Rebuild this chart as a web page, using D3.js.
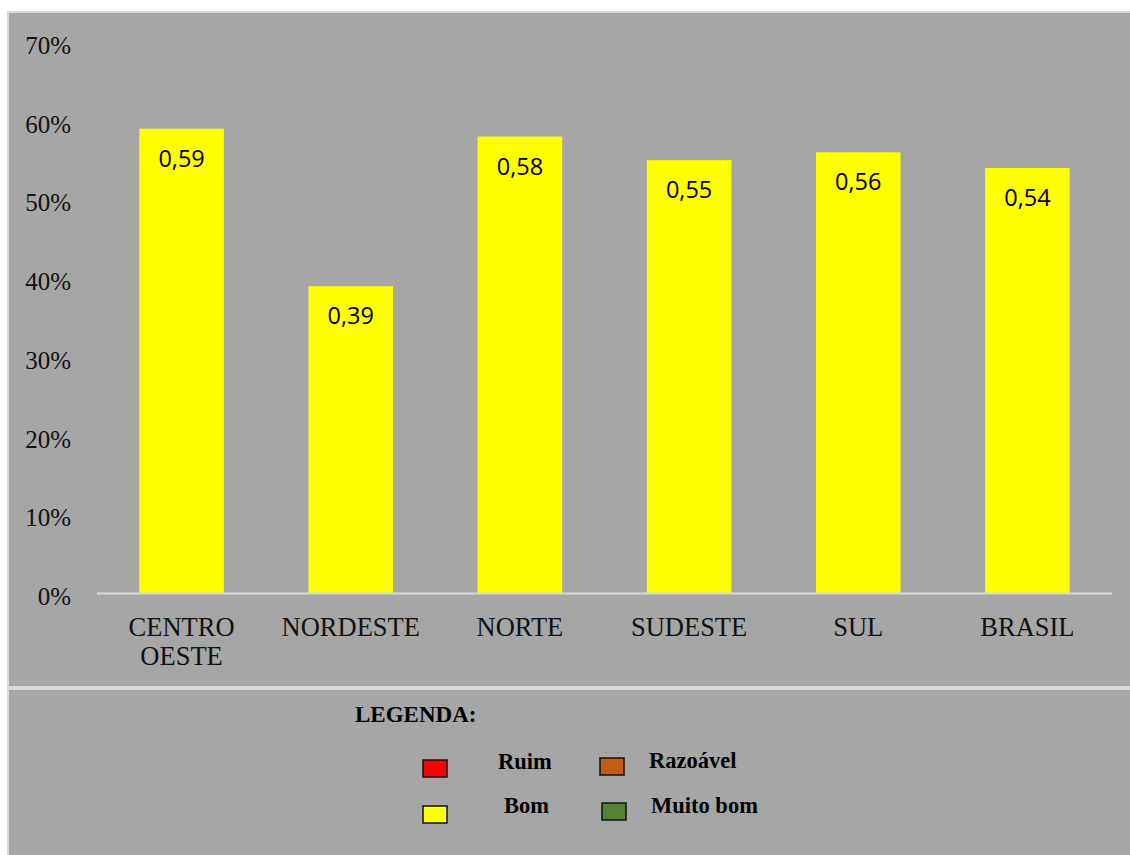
<!DOCTYPE html>
<html>
<head>
<meta charset="utf-8">
<script src="https://cdn.jsdelivr.net/npm/d3@7"></script>
<style>
  html, body { margin: 0; padding: 0; background: #ffffff; }
  svg { display: block; }
</style>
</head>
<body>
<svg id="chart" width="1130" height="855"></svg>
<script>
const categories = ["CENTRO OESTE", "NORDESTE", "NORTE", "SUDESTE", "SUL", "BRASIL"];
const values = [0.59, 0.39, 0.58, 0.55, 0.56, 0.54];
const tickValues = [0, 0.1, 0.2, 0.3, 0.4, 0.5, 0.6, 0.7];
const legendLabels = ["Ruim", "Razoável", "Bom", "Muito bom"];
const legendColors = ["#ff0000", "#c55a11", "#ffff00", "#548235"];

const svg = d3.select("#chart");
const W = 1130, H = 855;
const bg = "#a6a6a6";

// panels
svg.append("rect").attr("x", 8).attr("y", 12).attr("width", W - 7).attr("height", 675)
  .attr("fill", bg).attr("stroke", "#d9d9d9").attr("stroke-width", 2);
svg.append("rect").attr("x", 8).attr("y", 689).attr("width", W - 7).attr("height", H - 688)
  .attr("fill", bg).attr("stroke", "#d9d9d9").attr("stroke-width", 2);

const x = d3.scaleBand().domain(categories).range([97, 1112]).paddingInner(0.5).paddingOuter(0.25);
const y = d3.scaleLinear().domain([0, 0.7]).range([593.5, 42]);

// y axis labels
const yAxis = d3.axisLeft(y).tickValues(tickValues).tickFormat(d3.format(".0%")).tickSize(0).tickPadding(0);
const gy = svg.append("g").attr("transform", "translate(71,0)").call(yAxis);
gy.select(".domain").remove();
gy.selectAll("text").attr("font-family", "'Liberation Serif', 'Times New Roman', serif")
  .attr("font-size", 25).attr("fill", "#111").attr("dy", "0.45em");

// bars
svg.append("g").selectAll("rect").data(values).join("rect")
  .attr("x", (d, i) => x(categories[i]))
  .attr("y", d => y(d))
  .attr("width", x.bandwidth())
  .attr("height", d => y(0) - y(d))
  .attr("fill", "#ffff00");

// value labels
const fmt = d => d3.format(".2f")(d).replace(".", ",");
svg.append("g").selectAll("text").data(values).join("text")
  .attr("x", (d, i) => x(categories[i]) + x.bandwidth() / 2)
  .attr("y", d => y(d) + 38)
  .attr("text-anchor", "middle")
  .attr("font-family", "'Open Sans', 'Noto Sans', sans-serif")
  .attr("font-size", 23.5)
  .attr("fill", "#000")
  .text(fmt);

// x axis
const xAxis = d3.axisBottom(x).tickSize(0).tickPadding(0);
const gx = svg.append("g").attr("transform", `translate(0,${y(0)})`).call(xAxis);
gx.select(".domain").attr("stroke", "#d9d9d9").attr("stroke-width", 2)
  .attr("d", `M97,0H1112`);
gx.selectAll("text").each(function(d) {
  const t = d3.select(this);
  t.text(null).attr("y", 0).attr("dy", null);
  const words = d.split(" ");
  words.forEach((w, i) => {
    t.append("tspan").attr("x", 0).attr("y", 42 + i * 29).text(w);
  });
}).attr("font-family", "'Liberation Serif', 'Times New Roman', serif")
  .attr("font-size", 26.5).attr("fill", "#111");

// legend
const lf = "'Liberation Serif', 'Times New Roman', serif";
svg.append("text").attr("x", 355).attr("y", 722).attr("font-family", lf)
  .attr("font-weight", "bold").attr("font-size", 23).attr("fill", "#000").text("LEGENDA:");

const legendPos = [
  {rx: 423, ry: 760, tx: 498, ty: 769},
  {rx: 600, ry: 758, tx: 649, ty: 768},
  {rx: 423, ry: 806, tx: 504, ty: 813},
  {rx: 602, ry: 803, tx: 651, ty: 813}
];
const lg = svg.append("g");
legendLabels.forEach((lab, i) => {
  const p = legendPos[i];
  lg.append("rect").attr("x", p.rx).attr("y", p.ry).attr("width", 24).attr("height", 17)
    .attr("fill", legendColors[i]).attr("stroke", "#111").attr("stroke-width", 1.5);
  lg.append("text").attr("x", p.tx).attr("y", p.ty).attr("font-family", lf)
    .attr("font-weight", "bold").attr("font-size", 22.5).attr("fill", "#000").text(lab);
});
</script>
</body>
</html>
